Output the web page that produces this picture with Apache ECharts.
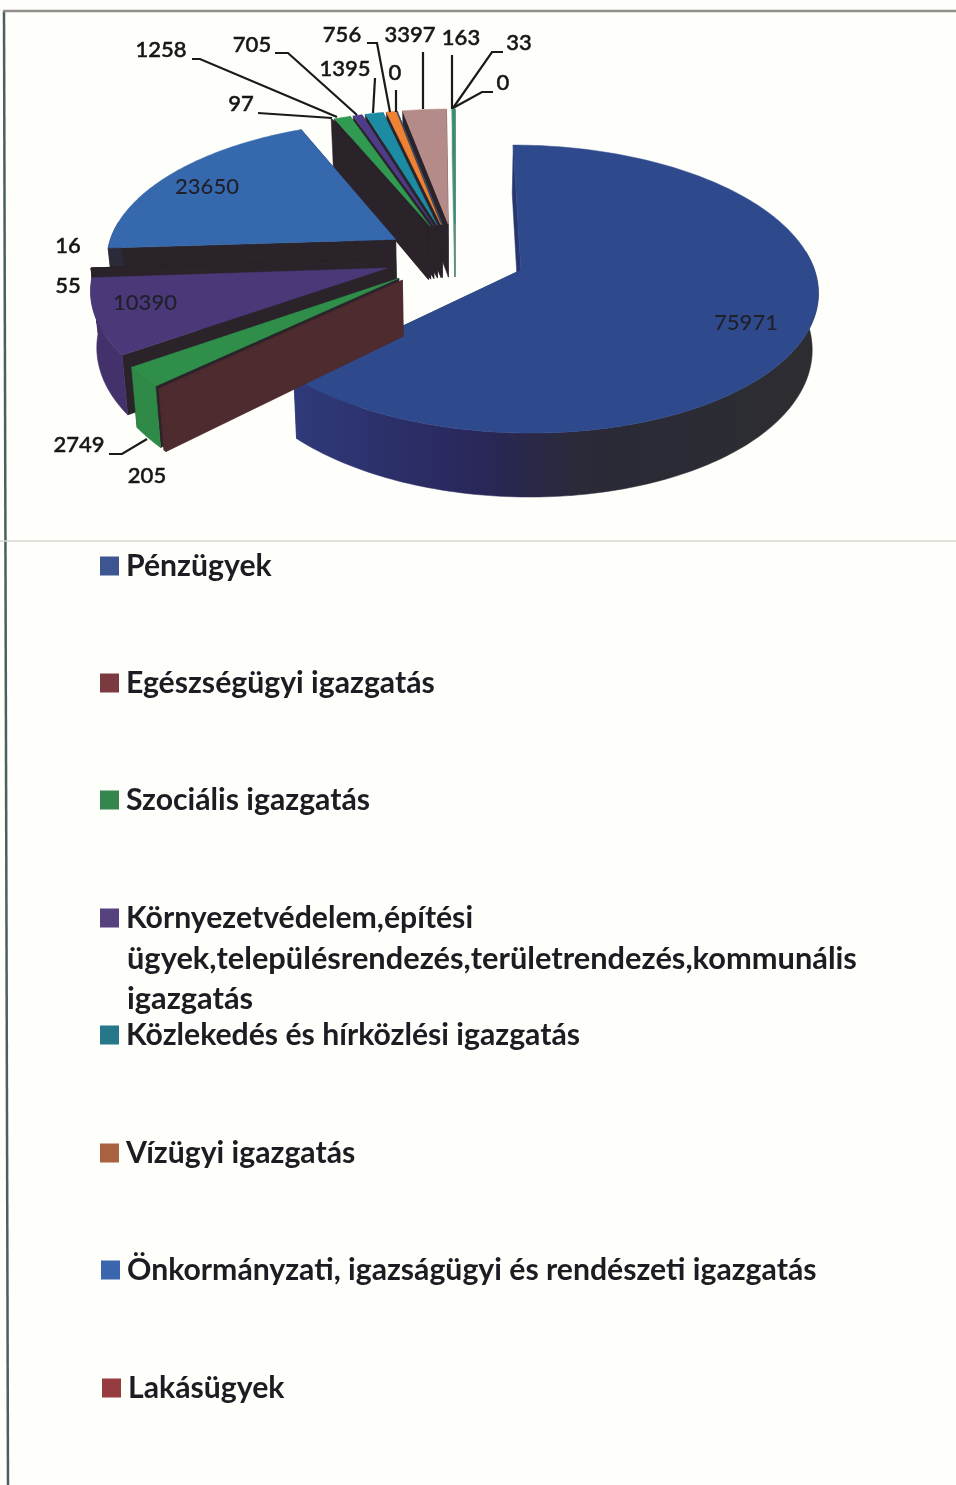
<!DOCTYPE html>
<html>

<head>
  <meta charset="utf-8">
  <title>3D pie</title>
  <script src="https://cdn.jsdelivr.net/npm/echarts/dist/echarts.min.js"></script>
  <style>
    html, body { margin: 0; padding: 0; background: #fefefb; }
    #chart { width: 956px; height: 1485px; }
  </style>
</head>

<body>
  <div id="chart"></div>

  <script>
    // values, clockwise from 12 o'clock
    const values = [75971, 205, 2749, 10390, 55, 16, 23650, 97, 1258, 705, 1395, 756, 0, 3397, 163, 33, 0];

    const categories = [
      'Pénzügyek',
      'Egészségügyi igazgatás',
      'Szociális igazgatás',
      'Környezetvédelem,építési\nügyek,településrendezés,területrendezés,kommunális\nigazgatás',
      'Közlekedés és hírközlési igazgatás',
      'Vízügyi igazgatás',
      'Önkormányzati, igazságügyi és rendészeti igazgatás',
      'Lakásügyek'
    ];
    const legendColors = ['#3d5590', '#7a3a40', '#35854f', '#55427f', '#24788a', '#a9623f', '#3a66ae', '#963c40'];

    // top face colours per slice
    const sliceColors = ['#2f4a8c', '#4d2b2e', '#2f8f4a', '#4a3878', '#2a2329', '#2a2329', '#3568ad', '#2a2329',
      '#2f9a50', '#4f3c88', '#1b8ca3', '#ee8232', '#3568ad', '#b58b89', '#2f8f6a', '#1f8a9e', '#e98034'];

    // where the value text goes: [x, y] and optional leader from there to the slice
    const labelSpots = [
      { at: [746, 323], inside: true },
      { at: [147, 476] },
      { at: [79, 445], leader: [[109, 454], [122, 454], [147, 439]] },
      { at: [145, 303], inside: true },
      { at: [68, 286] },
      { at: [68, 246] },
      { at: [207, 187], inside: true },
      { at: [241, 104], leader: [[258, 113], [332, 118]] },
      { at: [161, 50], leader: [[192, 59], [200, 59], [337, 117]] },
      { at: [252, 45], leader: [[275, 53], [288, 53], [357, 115]] },
      { at: [345, 69], leader: [[375, 78], [373, 113]] },
      { at: [342, 35], leader: [[367, 43], [377, 43], [390, 112]] },
      { at: [395, 73], leader: [[396, 90], [396, 112]] },
      { at: [410, 35], leader: [[423, 52], [423, 109]] },
      { at: [461, 38], leader: [[452, 55], [452, 109]] },
      { at: [519, 43], leader: [[503, 52], [492, 52], [453, 108]] },
      { at: [503, 83], leader: [[493, 92], [482, 92], [453, 108]] }
    ];

    const total = values.reduce((a, b) => a + b, 0);
    const TAU = Math.PI * 2;

    // projection of the tilted disc
    const CX = 455, CY = 256.7, RX = 290, RY = 138, PERSP = 0.13, EXPLODE = 0.244, DROP = 54.6;

    function project(u, v, low) {
      const s = 1 / (1 + PERSP * v);
      if (low) {
        return [CX + RX * u * s * 0.983, CY + DROP - RY * v * s * 1.053];
      }
      return [CX + RX * u * s, CY - RY * v * s];
    }

    // start and end angle of each slice, from the values
    let running = 0;
    const slices = values.map((val, i) => {
      const a0 = running / total * TAU;
      running += val;
      const a1 = running / total * TAU;
      const mid = (a0 + a1) / 2;
      return { i, a0, a1, mid, ou: Math.sin(mid) * EXPLODE, ov: Math.cos(mid) * EXPLODE };
    });

    function rim(s, a) {
      return [s.ou + Math.sin(a), s.ov + Math.cos(a)];
    }

    function arcAngles(s) {
      const steps = Math.max(2, Math.ceil((s.a1 - s.a0) / 0.02));
      const out = [];
      for (let k = 0; k <= steps; k++) {
        out.push(s.a0 + (s.a1 - s.a0) * k / steps);
      }
      return out;
    }

    function poly(points, fill, z2) {
      return {
        type: 'polygon',
        z2: z2,
        shape: { points: points },
        style: { fill: fill, stroke: fill, lineWidth: 0.5 },
        silent: true
      };
    }

    function wallColor(i, side) {
      if (i === 0 && side === 'end') return '#2e3a74';
      if (i === 0 && side === 'start') return '#27376e';
      if (i === 1) return '#4d2b2e';
      if (i >= 14) return '#5f8f84';
      return '#2a2329';
    }

    function rimColor(i) {
      if (i === 0) {
        return new echarts.graphic.LinearGradient(0, 0, 1, 0, [
          { offset: 0, color: '#2f3a7a' },
          { offset: 0.35, color: '#29275a' },
          { offset: 0.55, color: '#2a2a38' },
          { offset: 1, color: '#2d2d31' }
        ]);
      }
      if (i === 1) return '#4d2b2e';
      if (i === 2) return '#2f8a47';
      if (i === 3) return '#43316c';
      if (i === 6) return '#2a2a38';
      if (i >= 14) return '#5f8f84';
      return '#2a2329';
    }

    // back slices are painted first
    const paintOrder = slices.slice().sort((a, b) => b.ov - a.ov);

    function renderSlice(params, api) {
      const idx = params.dataIndex;
      const s = slices[idx];
      const order = paintOrder.indexOf(s) * 10;
      const tipTop = project(s.ou, s.ov);
      const tipLow = project(s.ou, s.ov, true);
      const angles = arcAngles(s);
      const at = (a, low) => {
        const r = rim(s, a);
        return project(r[0], r[1], low);
      };
      const arcTop = angles.map(a => at(a));
      const arcLow = angles.map(a => at(a, true));
      const children = [];

      // radial walls, the one facing away goes first
      const n = arcTop.length - 1;
      const startWall = [tipTop, arcTop[0], arcLow[0], tipLow];
      const endWall = [tipTop, arcTop[n], arcLow[n], tipLow];
      const mid = arcTop[Math.floor(n / 2)];
      const frontFacing = e => {
        // the wall shows when the top face lies above it on screen
        const t = (mid[0] - tipTop[0]) * (e[1] - tipTop[1]) - (mid[1] - tipTop[1]) * (e[0] - tipTop[0]);
        return e[0] < tipTop[0] ? t < 0 : t > 0;
      };
      const walls = [
        { pts: startWall, side: 'start', show: frontFacing(arcTop[0]) },
        { pts: endWall, side: 'end', show: frontFacing(arcTop[n]) }
      ].sort((a, b) => a.show - b.show);
      walls.forEach((w, k) => children.push(poly(w.pts, wallColor(idx, w.side), order + k)));

      // outer wall, only the part turned to the viewer
      const front = angles.filter(a => Math.cos(a) < 0.15);
      if (front.length > 1) {
        const rimTop = front.map(a => at(a));
        const rimLow = front.map(a => at(a, true));
        children.push(poly(rimTop.concat(rimLow.reverse()), rimColor(idx), order + 2));
      }

      // top face
      children.push(poly([tipTop].concat(arcTop), sliceColors[idx], order + 3));

      return { type: 'group', children: children };
    }

    // value texts and leaders sit over all slices
    function renderLabel(params, api) {
      const idx = params.dataIndex;
      const spot = labelSpots[idx];
      const children = [{
        type: 'text',
        z2: 500,
        style: {
          x: spot.at[0], y: spot.at[1],
          text: String(api.value(0)),
          fill: spot.inside ? '#20202a' : '#161616',
          stroke: spot.inside ? null : '#161616',
          lineWidth: spot.inside ? 0 : 0.5,
          font: '500 22px Lato',
          align: 'center', verticalAlign: 'middle'
        },
        silent: true
      }];
      if (spot.leader) {
        children.push({
          type: 'polyline',
          z2: 499,
          shape: { points: spot.leader },
          style: { fill: 'none', stroke: '#1a1a1a', lineWidth: 2.2 },
          silent: true
        });
      }
      return { type: 'group', children: children };
    }

    const legendNames = categories.map(c => c.split('\n')[0]);
    const legendTops = [565, 682, 799, 917, 1034, 1152, 1269, 1387];
    const legendLeft = [100, 100, 100, 100, 100, 100, 101, 102];

    const chart = echarts.init(document.getElementById('chart'));
    chart.setOption({
      backgroundColor: '#fefefb',
      animation: false,
      legend: legendNames.map((name, i) => ({
        data: [name],
        left: legendLeft[i],
        top: legendTops[i] - 14,
        orient: 'horizontal',
        padding: 0,
        icon: 'rect',
        itemWidth: 19,
        itemHeight: 19,
        itemGap: 0,
        selectedMode: false,
        textStyle: { fontFamily: 'Lato', fontSize: 30.2, fontWeight: 'bold', color: '#1c1c22', padding: [0, 0, 0, 2] }
      })),
      graphic: [
        // scanned page edges
        { type: 'line', shape: { x1: 4, y1: 11, x2: 8, y2: 1485 }, style: { stroke: '#4a5f60', lineWidth: 2.5 }, silent: true },
        { type: 'line', shape: { x1: 3, y1: 11, x2: 956, y2: 11 }, style: { stroke: '#8f8f88', lineWidth: 2.5 }, silent: true },
        { type: 'line', shape: { x1: 0, y1: 541, x2: 956, y2: 541 }, style: { stroke: '#d6d6cc', lineWidth: 1.5 }, silent: true },
        // the wrapped part of the fourth legend entry
        {
          type: 'text', left: 127, top: 939,
          style: {
            text: categories[3].split('\n').slice(1).join('\n'),
            font: 'bold 30.8px Lato', lineHeight: 40, fill: '#1c1c22'
          }
        }
      ],
      series: [
        {
          // only feeds the legend
          type: 'pie',
          radius: 0,
          silent: true,
          label: { show: false },
          labelLine: { show: false },
          data: legendNames.map((name, i) => ({ name, value: 1, itemStyle: { color: legendColors[i] } }))
        },
        {
          type: 'custom',
          coordinateSystem: 'none',
          silent: true,
          data: values.map(v => [v]),
          renderItem: renderSlice
        },
        {
          type: 'custom',
          coordinateSystem: 'none',
          silent: true,
          z: 5,
          data: values.map(v => [v]),
          renderItem: renderLabel
        }
      ]
    });
  </script>
</body>

</html>
